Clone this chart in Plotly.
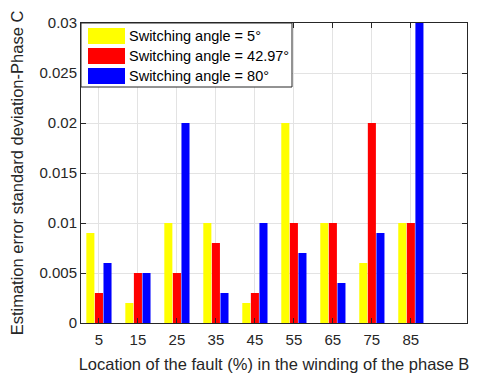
import plotly.graph_objects as go

categories = ["5", "15", "25", "35", "45", "55", "65", "75", "85"]
series_names = ["Switching angle = 5°", "Switching angle = 42.97°", "Switching angle = 80°"]
angle_5 = [0.009, 0.002, 0.010, 0.010, 0.002, 0.020, 0.010, 0.006, 0.010]
angle_42_97 = [0.003, 0.005, 0.005, 0.008, 0.003, 0.010, 0.010, 0.020, 0.010]
angle_80 = [0.006, 0.005, 0.020, 0.003, 0.010, 0.007, 0.004, 0.009, 0.030]
y_ticks = [0, 0.005, 0.01, 0.015, 0.02, 0.025, 0.03]
y_ticktext = ["0", "0.005", "0.01", "0.015", "0.02", "0.025", "0.03"]

colors = ["#FFFF00", "#FF0000", "#0000FF"]
x_pos = list(range(1, len(categories) + 1))

fig = go.Figure()
for name, vals, c in zip(series_names, [angle_5, angle_42_97, angle_80], colors):
    fig.add_trace(go.Bar(x=x_pos, y=vals, name=name, marker=dict(color=c, line=dict(width=0)),
                         showlegend=False))

FONT = "Liberation Sans, Arial, sans-serif"
axis_col = "#262626"

# page body has an 8px margin: figure is 470x371 placed at (8, 8)
fig.update_layout(
    width=470, height=371,
    margin=dict(l=73, r=11, t=15, b=56),
    paper_bgcolor="white", plot_bgcolor="white",
    barmode="group", bargap=0.34, bargroupgap=0.06,
    font=dict(family=FONT, size=15, color=axis_col),
    xaxis=dict(
        range=[0.54, 10.44], tickmode="array", tickvals=x_pos, ticktext=categories,
        showgrid=True, gridcolor="#e3e3e3", gridwidth=1,
        showline=True, linecolor=axis_col, linewidth=1, mirror="ticks",
        ticks="inside", ticklen=5, tickcolor=axis_col, ticklabelstandoff=3,
        tickfont=dict(size=15, color=axis_col), zeroline=False, automargin=False,
        title=dict(text="Location of the fault (%) in the winding of the phase B",
                   font=dict(size=16.5, color=axis_col), standoff=11),
    ),
    yaxis=dict(
        range=[0, 0.03], tickmode="array", tickvals=y_ticks, ticktext=y_ticktext,
        showgrid=True, gridcolor="#e3e3e3", gridwidth=1,
        showline=True, linecolor=axis_col, linewidth=1, mirror="ticks",
        ticks="inside", ticklen=5, tickcolor=axis_col,
        tickfont=dict(size=15, color=axis_col), zeroline=False, automargin=False,
        title=dict(text="Estimation error standard deviation-Phase C",
                   font=dict(size=16.5, color=axis_col), standoff=13),
    ),
)

# manual legend (MATLAB style, wide swatches); page-pixel helpers
def px_x(p):
    return (p - 81) / 386.0

def px_y(p):
    return (323 - p) / 300.0

fig.add_shape(type="rect", xref="paper", yref="paper",
              x0=px_x(81), x1=px_x(292), y0=px_y(87), y1=px_y(23),
              line=dict(color=axis_col, width=1), fillcolor="white", layer="above")
for i, (name, c) in enumerate(zip(series_names, colors)):
    yc = 36 + 20 * i
    fig.add_shape(type="rect", xref="paper", yref="paper",
                  x0=px_x(88), x1=px_x(125), y0=px_y(yc + 8), y1=px_y(yc - 8),
                  line=dict(width=0), fillcolor=c, layer="above")
    fig.add_annotation(xref="paper", yref="paper", x=px_x(127), y=px_y(yc),
                       xanchor="left", yanchor="middle", text=name, showarrow=False,
                       font=dict(size=14.5, color="black", family=FONT))

fig.write_html("out.html")
